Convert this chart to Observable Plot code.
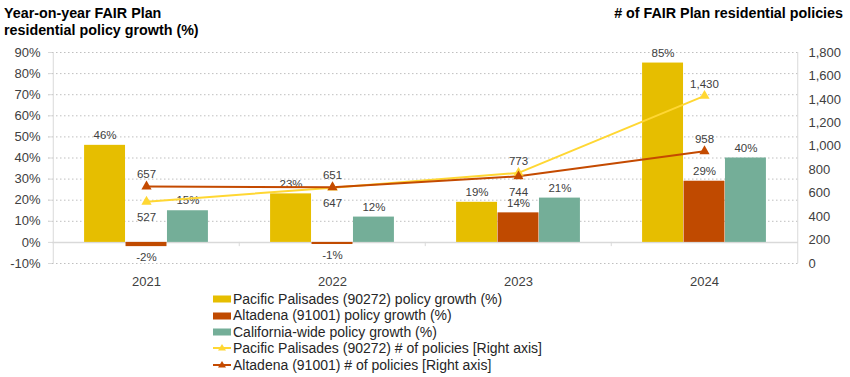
<!DOCTYPE html>
<html>
<head>
<meta charset="utf-8">
<script src="https://cdn.jsdelivr.net/npm/d3@7"></script>
<script src="https://cdn.jsdelivr.net/npm/@observablehq/plot@0.6"></script>
<style>
  body { margin: 0; background: #fff; font-family: Arial, "Liberation Sans", sans-serif; }
  #wrap { position: relative; width: 850px; height: 377px; overflow: hidden; }
  .title { position: absolute; top: 5px; font-size: 14.3px; font-weight: bold; color: #000; line-height: 17px; }
  #tl { left: 4px; }
  #tr { right: 7px; text-align: right; }
  #chart { position: absolute; top: 44px; left: 0; }
  #legend { position: absolute; top: 291px; left: 213px; font-size: 14px; color: #262626; }
  .row { height: 16.4px; line-height: 16.4px; display: flex; align-items: center; white-space: nowrap; }
  .row svg { margin-right: 1px; flex: none; }
</style>
</head>
<body>
<div id="wrap">
  <div class="title" id="tl">Year-on-year FAIR Plan<br>residential policy growth (%)</div>
  <div class="title" id="tr"># of FAIR Plan residential policies</div>
  <div id="chart"></div>
  <div id="legend"></div>
</div>
<script>
// ---- data ----
const years = ["2021", "2022", "2023", "2024"];
const pacGrowth = [46, 23, 19, 85];
const altGrowth = [-2, -1, 14, 29];
const caGrowth = [15, 12, 21, 40];
const pacPolicies = [527, 647, 773, 1430];
const altPolicies = [657, 651, 744, 958];
const leftTicks = [-10, 0, 10, 20, 30, 40, 50, 60, 70, 80, 90];
const rightTicks = [0, 200, 400, 600, 800, 1000, 1200, 1400, 1600, 1800];
const seriesNames = [
  "Pacific Palisades (90272) policy growth (%)",
  "Altadena (91001) policy growth (%)",
  "California-wide policy growth (%)",
  "Pacific Palisades (90272) # of policies [Right axis]",
  "Altadena (91001) # of policies [Right axis]"
];

// ---- styles ----
const C_PAC = "#E6BE00", C_ALT = "#C04A00", C_CA = "#74AE98";
const C_PAC_LINE = "#FFD733", C_ALT_LINE = "#C44A00";
const TXT = "#404040";
const LBL = 11.5;

const W = 850, H = 249, ML = 52, MR = 52, MT = 8, MB = 30;
const bw = (W - ML - MR) / years.length;
const barW = bw / 4.5;

// right axis (0..1800) maps onto left axis (-10..90)
const toLeft = v => v / 18 - 10;
const fromLeft = v => Math.round((v + 10) * 18);

const rows = years.map((year, i) => ({
  year,
  pac: pacGrowth[i], alt: altGrowth[i], ca: caGrowth[i],
  pacP: pacPolicies[i], altP: altPolicies[i]
}));
// label below if this line is lower than the other and close to it
const below = (self, other) => self < other && other - self < 150;

const pct = d => d + "%";
const num = d3.format(",");

function barMarks(key, fill, offset) {
  return [
    Plot.barY(rows, {x: "year", y: key, fill,
      insetLeft: bw / 2 + offset - barW / 2, insetRight: bw / 2 - offset - barW / 2}),
    Plot.text(rows.filter(d => d[key] >= 0), {x: "year", y: key, text: d => pct(d[key]),
      dx: offset, dy: -10, fill: TXT, fontSize: LBL}),
    Plot.text(rows.filter(d => d[key] < 0), {x: "year", y: key, text: d => pct(d[key]),
      dx: offset, dy: 11, fill: TXT, fontSize: LBL})
  ];
}

const plot = Plot.plot({
  width: W, height: H,
  marginLeft: ML, marginRight: MR, marginTop: MT, marginBottom: MB,
  style: {fontFamily: 'Arial, "Liberation Sans", sans-serif', fontSize: "13px", color: TXT, background: "#fff"},
  x: {type: "band", domain: years, padding: 0, label: null},
  y: {domain: [-10, 90], label: null},
  marks: [
    Plot.gridY(leftTicks.filter(d => d !== 0), {stroke: "#bfbfbf", strokeOpacity: 1, strokeDasharray: "1.5,2.5", insetLeft: -4}),
    Plot.ruleX(years.slice(0, 1), {x: d => d, dx: -bw / 2, y1: -10, y2: 90, stroke: "#d9d9d9"}),
    Plot.ruleX(years.slice(-1), {x: d => d, dx: bw / 2, y1: -10, y2: 90, stroke: "#d9d9d9"}),
    Plot.ruleY([0], {stroke: "#d9d9d9", strokeWidth: 1.5}),
    Plot.ruleX(years.slice(1), {x: d => d, dx: -bw / 2, y1: 0, y2: -2, stroke: "#d9d9d9"}),
    ...barMarks("pac", C_PAC, -barW),
    ...barMarks("alt", C_ALT, 0),
    ...barMarks("ca", C_CA, barW),
    Plot.line(rows, {x: "year", y: d => toLeft(d.pacP), stroke: C_PAC_LINE, strokeWidth: 2}),
    Plot.line(rows, {x: "year", y: d => toLeft(d.altP), stroke: C_ALT_LINE, strokeWidth: 2}),
    Plot.dot(rows, {x: "year", y: d => toLeft(d.pacP), symbol: "triangle", r: 3.8, fill: C_PAC_LINE, stroke: "none"}),
    Plot.dot(rows, {x: "year", y: d => toLeft(d.altP), symbol: "triangle", r: 3.8, fill: C_ALT_LINE, stroke: "none"}),
    Plot.text(rows.filter(d => !below(d.pacP, d.altP)), {x: "year", y: d => toLeft(d.pacP), text: d => num(d.pacP), dy: -12, fill: TXT, fontSize: LBL}),
    Plot.text(rows.filter(d => below(d.pacP, d.altP)), {x: "year", y: d => toLeft(d.pacP), text: d => num(d.pacP), dy: 16, fill: TXT, fontSize: LBL}),
    Plot.text(rows.filter(d => !below(d.altP, d.pacP)), {x: "year", y: d => toLeft(d.altP), text: d => num(d.altP), dy: -12, fill: TXT, fontSize: LBL}),
    Plot.text(rows.filter(d => below(d.altP, d.pacP)), {x: "year", y: d => toLeft(d.altP), text: d => num(d.altP), dy: 16, fill: TXT, fontSize: LBL}),
    Plot.axisY({ticks: leftTicks, tickFormat: pct, tickSize: 4, tickPadding: 8, stroke: "#d9d9d9", fill: TXT, label: null}),
    Plot.axisY({anchor: "right", ticks: rightTicks.map(toLeft), tickFormat: d => num(fromLeft(d)), tickSize: 0, tickPadding: 10, fill: TXT, label: null}),
    Plot.axisX({tickSize: 0, tickPadding: 13, fill: TXT, label: null})
  ]
});
document.getElementById("chart").appendChild(plot);

// ---- legend ----
const legend = d3.select("#legend");
const kinds = [
  {type: "bar", color: C_PAC}, {type: "bar", color: C_ALT}, {type: "bar", color: C_CA},
  {type: "line", color: C_PAC_LINE}, {type: "line", color: C_ALT_LINE}
];
seriesNames.forEach((name, i) => {
  const row = legend.append("div").attr("class", "row");
  const s = row.append("svg").attr("width", 19).attr("height", 12);
  if (kinds[i].type === "bar") {
    s.append("rect").attr("x", 0).attr("y", 2.5).attr("width", 18).attr("height", 7).attr("fill", kinds[i].color);
  } else {
    s.append("line").attr("x1", 0).attr("x2", 18).attr("y1", 6).attr("y2", 6).attr("stroke", kinds[i].color).attr("stroke-width", 2);
    s.append("path").attr("d", "M9,2 L13,8.5 L5,8.5 Z").attr("fill", kinds[i].color);
  }
  row.append("span").text(name);
});
</script>
</body>
</html>
